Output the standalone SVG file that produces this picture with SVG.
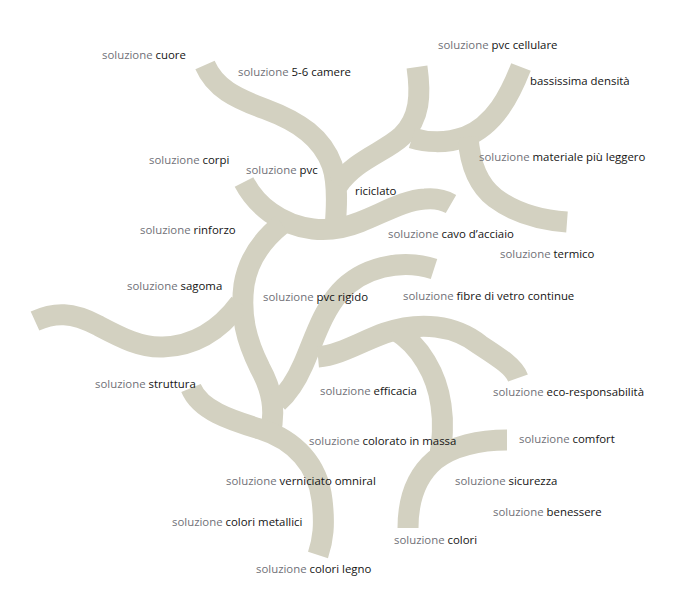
<svg xmlns="http://www.w3.org/2000/svg" width="690" height="615" viewBox="0 0 690 615">
<style>
.b{fill:none;stroke:#d3d1c1;stroke-width:21;stroke-linecap:butt;stroke-linejoin:round}
text{font-family:"Open Sans","Noto Sans","Liberation Sans",sans-serif;font-size:11.4px;fill:#141414}
.s{fill:#717178}
</style>
<rect width="690" height="615" fill="#ffffff"/>
<g id="branches">
<path class="b" d="M205,65 C215,88 235,98 265,109 C300,122 322,138 332,165 C338,182 337,205 335,228"/>
<path class="b" d="M244,182 C256,205 280,225 313,229 C330,231 345,228 360,222 C385,212 405,200 425,199 C435,198 444,200 451,204"/>
<path class="b" d="M282,224 C262,240 248,260 244,285 C240,315 246,340 260,368 C272,390 276,410 270,435"/>
<path class="b" d="M35,321 C55,312 72,312 97,325 C120,337 140,348 163,347 C195,346 220,330 240,303"/>
<path class="b" d="M434,269 C400,258 362,268 340,292 C322,312 314,340 303,365 C296,381 288,393 278,402"/>
<path class="b" d="M318,357 C340,355 360,342 385,333 C420,321 455,325 480,345 C500,358 514,367 518,378"/>
<path class="b" d="M395,330 C420,345 437,375 441,405 C444,425 442,440 440,455"/>
<path class="b" d="M507,440 C480,440 452,446 435,460 C415,477 408,500 408,528"/>
<path class="b" d="M191,388 C200,410 230,420 260,429 C295,440 318,465 322,500 C325,525 323,540 318,555"/>
<path class="b" d="M417,67 C421,95 420,118 402,136 C385,152 355,160 338,185"/>
<path class="b" d="M521,67 C510,95 495,125 465,137 C445,144 425,142 412,138"/>
<path class="b" d="M468,137 C470,165 478,185 495,198 C515,213 540,220 567,222"/>
</g>
<g id="label-cuore"><text x="102" y="59"><tspan class="s">soluzione </tspan>cuore</text></g>
<g id="label-5-6-camere"><text x="238" y="76"><tspan class="s">soluzione </tspan>5-6 camere</text></g>
<g id="label-pvc-cellulare"><text x="438" y="49"><tspan class="s">soluzione </tspan>pvc cellulare</text></g>
<g id="label-bassissima-densita"><text x="530" y="85">bassissima densità</text></g>
<g id="label-materiale"><text x="479" y="161"><tspan class="s">soluzione </tspan>materiale più leggero</text></g>
<g id="label-corpi"><text x="149" y="164"><tspan class="s">soluzione </tspan>corpi</text></g>
<g id="label-pvc"><text x="246" y="174"><tspan class="s">soluzione </tspan>pvc</text></g>
<g id="label-riciclato"><text x="355" y="195">riciclato</text></g>
<g id="label-rinforzo"><text x="140" y="234"><tspan class="s">soluzione </tspan>rinforzo</text></g>
<g id="label-cavo"><text x="388" y="238"><tspan class="s">soluzione </tspan>cavo d’acciaio</text></g>
<g id="label-termico"><text x="500" y="258"><tspan class="s">soluzione </tspan>termico</text></g>
<g id="label-sagoma"><text x="127" y="290"><tspan class="s">soluzione </tspan>sagoma</text></g>
<g id="label-pvc-rigido"><text x="263" y="301"><tspan class="s">soluzione </tspan>pvc rigido</text></g>
<g id="label-fibre"><text x="403" y="300"><tspan class="s">soluzione </tspan>fibre di vetro continue</text></g>
<g id="label-struttura"><text x="95" y="388"><tspan class="s">soluzione </tspan>struttura</text></g>
<g id="label-efficacia"><text x="320" y="395"><tspan class="s">soluzione </tspan>efficacia</text></g>
<g id="label-eco"><text x="493" y="396"><tspan class="s">soluzione </tspan>eco-responsabilità</text></g>
<g id="label-colorato"><text x="309" y="445"><tspan class="s">soluzione </tspan>colorato in massa</text></g>
<g id="label-comfort"><text x="519" y="443"><tspan class="s">soluzione </tspan>comfort</text></g>
<g id="label-verniciato"><text x="226" y="485"><tspan class="s">soluzione </tspan>verniciato omniral</text></g>
<g id="label-sicurezza"><text x="455" y="485"><tspan class="s">soluzione </tspan>sicurezza</text></g>
<g id="label-benessere"><text x="493" y="516"><tspan class="s">soluzione </tspan>benessere</text></g>
<g id="label-colori-metallici"><text x="172" y="526"><tspan class="s">soluzione </tspan>colori metallici</text></g>
<g id="label-colori"><text x="394" y="544"><tspan class="s">soluzione </tspan>colori</text></g>
<g id="label-colori-legno"><text x="256" y="573"><tspan class="s">soluzione </tspan>colori legno</text></g>
</svg>
